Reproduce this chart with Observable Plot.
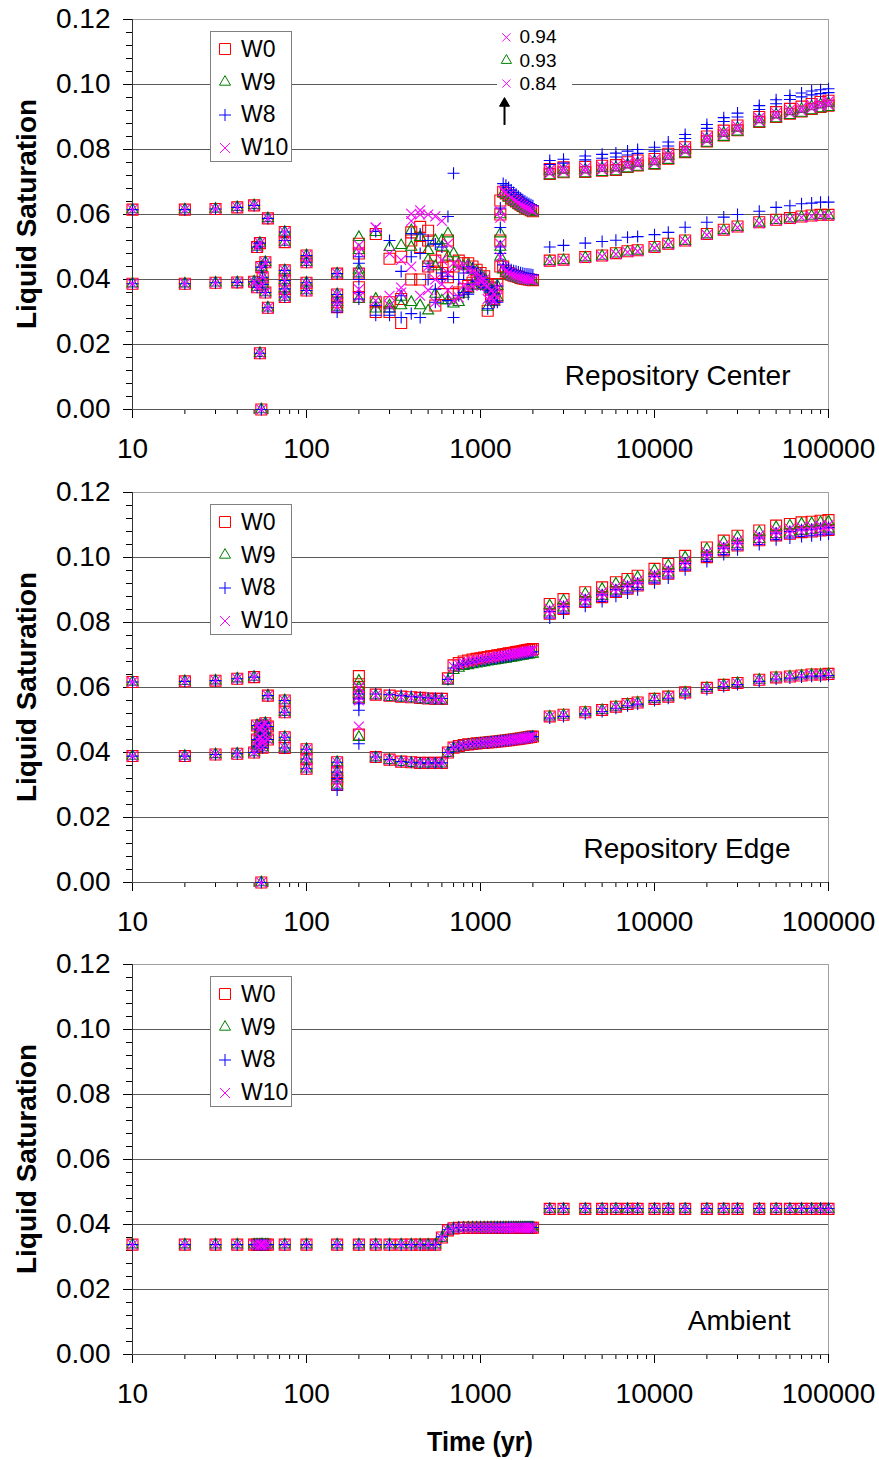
<!DOCTYPE html>
<html><head><meta charset="utf-8">
<script src="https://cdn.jsdelivr.net/npm/d3@7"></script>
<script src="https://cdn.jsdelivr.net/npm/@observablehq/plot@0.6"></script>
<style>
body{margin:0;background:#fff;}
#root{position:relative;width:879px;height:1460px;font-family:"Liberation Sans",Arial,sans-serif;color:#000;}
.panel{position:absolute;left:0;}
.ylab{position:absolute;transform:translate(-50%,-50%) rotate(-90deg);white-space:nowrap;font-weight:bold;font-size:28px;}
.legend{position:absolute;box-sizing:border-box;border:1px solid #808080;background:#fff;}
.legend .row{position:absolute;left:0;height:30px;display:flex;align-items:center;}
.legend .row span{font-size:23px;margin-left:4px;}
.xtitle{position:absolute;transform:translate(-50%,-50%) scaleX(0.9);font-weight:bold;font-size:28px;white-space:nowrap;}
</style></head>
<body><div id="root"></div>
<script>
// ---------------- DATA ----------------
const times = [10,20,30,40,50,52,54,55,56,58,60,75,100,150,200,
  250,300,350,400,450,500,550,600,650,700,
  750,800,850,900,950,1000,1050,1100,1150,1200,1250,1300,
  1350,1400,1450,1500,1550,1600,1650,1700,1750,1800,1850,1900,1950,2000,
  2500,3000,4000,5000,6000,7000,8000,10000,12000,15000,20000,25000,30000,40000,50000,60000,70000,80000,90000,100000];
const lateTimes = [2500,3000,4000,5000,6000,7000,8000,10000,12000,15000,20000,25000,30000,40000,50000,60000,70000,80000,90000,100000];

const seriesNames = ["W0","W9","W8","W10"];
const xMajorTicks = [10,100,1000,10000,100000];
const xMinorTicks = [20,30,40,50,60,70,80,90,200,300,400,500,600,700,800,900,2000,3000,4000,5000,6000,7000,8000,9000,20000,30000,40000,50000,60000,70000,80000,90000];
const yMajorTicks = [0,0.02,0.04,0.06,0.08,0.10,0.12];
const yMinorTicks = [0.004,0.008,0.012,0.016,0.024,0.028,0.032,0.036,0.044,0.048,0.052,0.056,0.064,0.068,0.072,0.076,0.084,0.088,0.092,0.096,0.104,0.108,0.112,0.116];
const panelLabels = ["Repository Center","Repository Edge","Ambient"];
const annoLabels = ["0.94","0.93","0.84"];

// Repository Center
const centerUpperW0 = [.0615,.0615,.0617,.0622,.0628,.0500,.0512,.0438,.0407,.0453,.0588,.0546,.0474,.0418,.0510,
  .0540,.0464,.0470,.0545,.0562,.0550,.0458,.0470,.0520,.0440,
  .0458,.0450,.0450,.0440,.0430,.0420,.0410,.0385,.0375,.0365,.0386,.0643,
  .0670,.0665,.0658,.0650,.0645,.0640,.0635,.0630,.0626,.0622,.0619,.0616,.0613,.0610,
  .0740,.0745,.0746,.0750,.0752,.0761,.0766,.0771,.0787,.0807,.0840,.0858,.0874,.0900,.0915,.0925,.0932,.0940,.0946,.0950];
const centerUpperW9 = [.0615,.0615,.0617,.0622,.0628,.0500,.0512,.0438,.0407,.0453,.0588,.0546,.0474,.0418,.0530,
  .0545,.0499,.0505,.0551,.0530,.0490,.0520,.0520,.0541,.0480,
  .0448,.0440,.0445,.0430,.0425,.0415,.0405,.0380,.0370,.0360,.0380,.0541,
  .0665,.0660,.0652,.0645,.0640,.0635,.0630,.0625,.0621,.0618,.0615,.0612,.0609,.0606,
  .0732,.0737,.0738,.0742,.0744,.0753,.0758,.0763,.0779,.0799,.0832,.0850,.0866,.0892,.0907,.0917,.0924,.0932,.0938,.0942];
const centerUpperW8 = [.0615,.0615,.0617,.0622,.0628,.0500,.0512,.0438,.0407,.0453,.0588,.0546,.0474,.0418,.0470,
  .0548,.0520,.0425,.0541,.0540,.0520,.0509,.0500,.0594,.0727,
  .0400,.0420,.0440,.0435,.0420,.0410,.0400,.0375,.0365,.0355,.0380,.0560,
  .0695,.0690,.0683,.0675,.0668,.0662,.0656,.0650,.0645,.0641,.0637,.0633,.0630,.0627,
  .0766,.0770,.0780,.0785,.0789,.0795,.0800,.0807,.0823,.0846,.0877,.0898,.0912,.0935,.0953,.0966,.0974,.0980,.0984,.0987];
const centerUpperW10 = [.0615,.0615,.0617,.0622,.0628,.0500,.0512,.0438,.0407,.0453,.0588,.0546,.0474,.0418,.0505,
  .0560,.0480,.0460,.0602,.0613,.0600,.0594,.0580,.0510,.0450,
  .0440,.0445,.0430,.0425,.0420,.0410,.0400,.0380,.0365,.0355,.0375,.0590,
  .0672,.0668,.0660,.0652,.0646,.0641,.0636,.0631,.0627,.0623,.0620,.0617,.0614,.0611,
  .0737,.0742,.0743,.0747,.0749,.0758,.0763,.0768,.0784,.0804,.0837,.0855,.0871,.0897,.0912,.0922,.0929,.0937,.0943,.0947];
const centerLowerW0 = [.0387,.0387,.0390,.0391,.0393,.0376,.0173,.0000,.0385,.0360,.0313,.0397,.0390,.0354,.0376,
  .0330,.0300,.0266,.0400,.0400,.0440,.0320,.0355,.0407,.0355,
  .0360,.0370,.0380,.0390,.0400,.0400,.0390,.0304,.0350,.0340,.0350,.0440,
  .0440,.0425,.0420,.0415,.0412,.0410,.0408,.0405,.0403,.0402,.0401,.0400,.0399,.0398,
  .0458,.0461,.0469,.0474,.0481,.0487,.0490,.0500,.0510,.0520,.0540,.0553,.0563,.0576,.0584,.0589,.0594,.0597,.0599,.0599];
const centerLowerW9 = [.0387,.0387,.0390,.0391,.0393,.0376,.0173,.0000,.0385,.0360,.0313,.0397,.0390,.0354,.0418,
  .0340,.0310,.0346,.0330,.0320,.0304,.0355,.0335,.0335,.0325,
  .0330,.0355,.0370,.0380,.0390,.0395,.0380,.0315,.0340,.0330,.0345,.0470,
  .0430,.0420,.0415,.0410,.0407,.0405,.0403,.0400,.0399,.0398,.0397,.0396,.0395,.0394,
  .0456,.0459,.0467,.0472,.0479,.0485,.0488,.0498,.0508,.0518,.0538,.0551,.0561,.0574,.0582,.0587,.0592,.0595,.0597,.0597];
const centerLowerW8 = [.0387,.0387,.0390,.0391,.0393,.0376,.0173,.0000,.0385,.0360,.0313,.0397,.0390,.0354,.0360,
  .0320,.0290,.0283,.0295,.0283,.0400,.0370,.0400,.0335,.0283,
  .0350,.0360,.0355,.0385,.0395,.0385,.0375,.0310,.0335,.0330,.0330,.0500,
  .0445,.0437,.0433,.0430,.0427,.0425,.0423,.0421,.0419,.0418,.0417,.0416,.0415,.0414,
  .0500,.0505,.0512,.0517,.0521,.0530,.0532,.0538,.0545,.0561,.0576,.0592,.0600,.0610,.0622,.0627,.0633,.0635,.0638,.0638];
const centerLowerW10 = [.0387,.0387,.0390,.0391,.0393,.0376,.0173,.0000,.0385,.0360,.0313,.0397,.0390,.0354,.0370,
  .0335,.0320,.0375,.0440,.0350,.0367,.0330,.0386,.0367,.0335,
  .0345,.0380,.0375,.0380,.0390,.0395,.0385,.0340,.0340,.0335,.0345,.0469,
  .0440,.0425,.0420,.0415,.0412,.0410,.0408,.0405,.0403,.0402,.0401,.0400,.0399,.0398,
  .0455,.0458,.0466,.0471,.0478,.0484,.0487,.0497,.0507,.0517,.0537,.0550,.0560,.0573,.0581,.0586,.0591,.0594,.0596,.0596];
const centerExtraTimes = [75,75,75,75,100,100,150,150,200,200,200,250,300,350,400,450,500,550,600,650,1300,1300];
const centerExtraW0 = [.0515,.0428,.0371,.0346,.0453,.0366,.0330,.0315,.0480,.0418,.0346,.0300,.0330,.0340,.0520,.0500,.0520,.0420,.0420,.0440,.0600,.0520];
const centerExtraW9 = [.0515,.0428,.0371,.0346,.0453,.0366,.0330,.0315,.0490,.0430,.0340,.0310,.0320,.0320,.0500,.0530,.0460,.0440,.0500,.0470,.0600,.0500];
const centerExtraW8 = [.0520,.0428,.0371,.0346,.0453,.0366,.0330,.0300,.0450,.0400,.0340,.0290,.0300,.0350,.0470,.0480,.0440,.0330,.0420,.0410,.0620,.0480];
const centerExtraW10 = [.0515,.0428,.0371,.0346,.0453,.0366,.0330,.0315,.0485,.0420,.0346,.0560,.0350,.0360,.0580,.0600,.0440,.0400,.0460,.0420,.0610,.0510];
// second node of the upper late cluster (Center)
const centerLateW0 = [.0725,.0730,.0731,.0735,.0737,.0746,.0751,.0756,.0772,.0792,.0825,.0843,.0859,.0885,.0900,.0910,.0917,.0925,.0931,.0935];
const centerLateW9 = [.0720,.0725,.0726,.0730,.0732,.0741,.0746,.0751,.0767,.0787,.0820,.0838,.0854,.0880,.0895,.0905,.0912,.0920,.0926,.0930];
const centerLateW8 = [.0754,.0758,.0768,.0773,.0777,.0783,.0788,.0795,.0811,.0834,.0865,.0886,.0900,.0923,.0941,.0954,.0962,.0968,.0972,.0975];
const centerLateW10 = [.0727,.0732,.0733,.0737,.0739,.0748,.0753,.0758,.0774,.0794,.0827,.0845,.0861,.0887,.0902,.0912,.0919,.0927,.0933,.0937];

// Repository Edge
const edgeUpperW0 = [.0617,.0619,.0621,.0627,.0632,.0483,.0470,.0483,.0440,.0490,.0575,.0560,.0410,.0370,.0635,
  .0578,.0575,.0572,.0570,.0568,.0566,.0565,.0565,.0628,.0668,
  .0675,.0680,.0683,.0686,.0688,.0690,.0692,.0694,.0696,.0697,.0699,.0700,
  .0702,.0703,.0705,.0706,.0707,.0709,.0710,.0711,.0712,.0714,.0715,.0716,.0717,.0718,
  .0857,.0872,.0893,.0908,.0924,.0934,.0944,.0965,.0980,.1005,.1031,.1052,.1067,.1083,.1098,.1103,.1108,.1110,.1113,.1115];
const edgeUpperW9 = [.0617,.0619,.0621,.0627,.0632,.0483,.0470,.0483,.0440,.0490,.0575,.0560,.0410,.0370,.0620,
  .0575,.0570,.0568,.0566,.0563,.0561,.0560,.0560,.0620,.0653,
  .0660,.0665,.0668,.0671,.0673,.0675,.0677,.0679,.0681,.0682,.0684,.0685,
  .0687,.0688,.0690,.0691,.0692,.0694,.0695,.0696,.0697,.0699,.0700,.0701,.0702,.0703,
  .0852,.0867,.0888,.0903,.0919,.0929,.0939,.0960,.0975,.1000,.1026,.1047,.1062,.1078,.1093,.1098,.1103,.1105,.1108,.1110];
const edgeUpperW8 = [.0617,.0619,.0621,.0627,.0632,.0483,.0470,.0483,.0440,.0490,.0575,.0560,.0410,.0370,.0550,
  .0580,.0578,.0575,.0572,.0570,.0568,.0567,.0566,.0625,.0660,
  .0667,.0672,.0675,.0678,.0680,.0682,.0684,.0686,.0688,.0689,.0691,.0692,
  .0694,.0695,.0697,.0698,.0699,.0701,.0702,.0703,.0704,.0706,.0707,.0708,.0709,.0710,
  .0834,.0849,.0870,.0885,.0901,.0911,.0921,.0942,.0957,.0982,.1008,.1029,.1044,.1060,.1075,.1080,.1085,.1087,.1090,.1092];
const edgeUpperW10 = [.0617,.0619,.0621,.0627,.0632,.0483,.0470,.0483,.0440,.0490,.0575,.0560,.0410,.0370,.0600,
  .0576,.0573,.0570,.0568,.0566,.0564,.0563,.0563,.0624,.0664,
  .0671,.0676,.0679,.0682,.0684,.0686,.0688,.0690,.0692,.0693,.0695,.0696,
  .0698,.0699,.0701,.0702,.0703,.0705,.0706,.0707,.0708,.0710,.0711,.0712,.0713,.0714,
  .0842,.0857,.0878,.0893,.0909,.0919,.0929,.0950,.0965,.0990,.1016,.1037,.1052,.1068,.1083,.1088,.1093,.1095,.1098,.1100];
const edgeLowerW0 = [.0389,.0389,.0394,.0396,.0400,.0420,.0445,.0000,.0415,.0460,.0480,.0414,.0350,.0300,.0455,
  .0386,.0378,.0372,.0370,.0368,.0368,.0368,.0368,.0400,.0415,
  .0420,.0423,.0425,.0426,.0428,.0429,.0430,.0431,.0432,.0433,.0434,.0435,
  .0436,.0437,.0438,.0439,.0440,.0441,.0442,.0443,.0444,.0445,.0446,.0447,.0448,.0449,
  .0511,.0516,.0524,.0531,.0541,.0549,.0554,.0565,.0572,.0585,.0599,.0608,.0614,.0624,.0631,.0634,.0637,.0640,.0640,.0642];
const edgeLowerW9 = [.0389,.0389,.0394,.0396,.0400,.0420,.0445,.0000,.0415,.0460,.0480,.0414,.0350,.0300,.0447,
  .0384,.0376,.0370,.0367,.0365,.0365,.0365,.0365,.0398,.0413,
  .0418,.0421,.0423,.0424,.0426,.0427,.0428,.0429,.0430,.0431,.0432,.0433,
  .0434,.0435,.0436,.0437,.0438,.0439,.0440,.0441,.0442,.0443,.0444,.0445,.0446,.0447,
  .0510,.0515,.0523,.0530,.0540,.0548,.0553,.0564,.0571,.0584,.0598,.0607,.0613,.0623,.0630,.0633,.0636,.0639,.0639,.0641];
const edgeLowerW8 = [.0389,.0389,.0394,.0396,.0400,.0420,.0445,.0000,.0415,.0460,.0480,.0414,.0350,.0285,.0427,
  .0386,.0378,.0372,.0370,.0368,.0368,.0368,.0368,.0400,.0415,
  .0420,.0423,.0425,.0426,.0428,.0429,.0430,.0431,.0432,.0433,.0434,.0435,
  .0436,.0437,.0438,.0439,.0440,.0441,.0442,.0443,.0444,.0445,.0446,.0447,.0448,.0449,
  .0506,.0511,.0519,.0526,.0536,.0544,.0549,.0560,.0567,.0580,.0594,.0603,.0609,.0619,.0626,.0629,.0632,.0635,.0635,.0637];
const edgeLowerW10 = [.0389,.0389,.0394,.0396,.0400,.0420,.0445,.0000,.0415,.0460,.0480,.0414,.0350,.0300,.0480,
  .0386,.0378,.0372,.0370,.0368,.0368,.0368,.0368,.0400,.0415,
  .0420,.0423,.0425,.0426,.0428,.0429,.0430,.0431,.0432,.0433,.0434,.0435,
  .0436,.0437,.0438,.0439,.0440,.0441,.0442,.0443,.0444,.0445,.0446,.0447,.0448,.0449,
  .0510,.0515,.0523,.0530,.0540,.0548,.0553,.0564,.0571,.0584,.0598,.0607,.0613,.0623,.0630,.0633,.0636,.0639,.0639,.0641];
const edgeExtraTimes = [52,56,60,75,75,100,150,150,200,200,200];
const edgeExtraW0 = [.0440,.0430,.0440,.0524,.0447,.0380,.0340,.0320,.0610,.0585,.0570];
const edgeExtraW9 = [.0440,.0430,.0440,.0524,.0447,.0380,.0340,.0320,.0600,.0580,.0565];
const edgeExtraW8 = [.0440,.0430,.0440,.0524,.0447,.0380,.0340,.0320,.0580,.0565,.0530];
const edgeExtraW10 = [.0440,.0430,.0440,.0524,.0447,.0380,.0340,.0320,.0600,.0575,.0560];
// second node of the upper late cluster (Edge)
const edgeLateW0 = [.0827,.0842,.0863,.0878,.0894,.0904,.0914,.0935,.0950,.0975,.1001,.1022,.1037,.1053,.1068,.1073,.1078,.1080,.1083,.1085];
const edgeLateW9 = [.0830,.0845,.0866,.0881,.0897,.0907,.0917,.0938,.0953,.0978,.1004,.1025,.1040,.1056,.1071,.1076,.1081,.1083,.1086,.1088];
const edgeLateW8 = [.0814,.0829,.0850,.0865,.0881,.0891,.0901,.0922,.0937,.0962,.0988,.1009,.1024,.1040,.1055,.1060,.1065,.1067,.1070,.1072];
const edgeLateW10 = [.0827,.0842,.0863,.0878,.0894,.0904,.0914,.0935,.0950,.0975,.1001,.1022,.1037,.1053,.1068,.1073,.1078,.1080,.1083,.1085];

// Ambient
const ambientW0 = [.0338,.0338,.0338,.0338,.0338,.0338,.0338,.0338,.0338,.0338,.0338,.0338,.0338,.0338,.0338,
  .0338,.0338,.0338,.0338,.0338,.0338,.0338,.0360,.0382,.0388,
  .0390,.0390,.0390,.0390,.0390,.0390,.0390,.0390,.0390,.0390,.0390,.0390,
  .0390,.0390,.0390,.0390,.0390,.0390,.0390,.0390,.0390,.0390,.0390,.0390,.0390,.0390,
  .0448,.0448,.0448,.0448,.0448,.0448,.0448,.0448,.0448,.0448,.0448,.0448,.0448,.0448,.0448,.0448,.0448,.0448,.0448,.0448];
const ambientW9 = [.0338,.0338,.0338,.0338,.0338,.0338,.0338,.0338,.0338,.0338,.0338,.0338,.0338,.0338,.0338,
  .0338,.0338,.0338,.0338,.0338,.0338,.0338,.0358,.0380,.0387,
  .0389,.0389,.0390,.0390,.0390,.0390,.0390,.0390,.0390,.0390,.0390,.0390,
  .0390,.0390,.0390,.0390,.0390,.0390,.0390,.0390,.0390,.0390,.0390,.0390,.0390,.0390,
  .0447,.0447,.0447,.0447,.0447,.0447,.0447,.0447,.0447,.0447,.0447,.0447,.0447,.0447,.0447,.0447,.0447,.0447,.0447,.0447];
const ambientW8 = [.0338,.0338,.0338,.0338,.0338,.0338,.0338,.0338,.0338,.0338,.0338,.0338,.0338,.0338,.0338,
  .0338,.0338,.0338,.0338,.0338,.0338,.0338,.0362,.0384,.0389,
  .0391,.0391,.0391,.0391,.0391,.0391,.0391,.0391,.0391,.0391,.0391,.0391,
  .0391,.0391,.0391,.0391,.0391,.0391,.0391,.0391,.0391,.0391,.0391,.0391,.0391,.0391,
  .0449,.0449,.0449,.0449,.0449,.0449,.0449,.0449,.0449,.0449,.0449,.0449,.0449,.0449,.0449,.0449,.0449,.0449,.0449,.0449];
const ambientW10 = [.0338,.0338,.0338,.0338,.0338,.0338,.0338,.0338,.0338,.0338,.0338,.0338,.0338,.0338,.0338,
  .0338,.0338,.0338,.0338,.0338,.0338,.0338,.0360,.0382,.0388,
  .0390,.0390,.0390,.0390,.0390,.0390,.0390,.0390,.0390,.0390,.0390,.0390,
  .0390,.0390,.0390,.0390,.0390,.0390,.0390,.0390,.0390,.0390,.0390,.0390,.0390,.0390,
  .0448,.0448,.0448,.0448,.0448,.0448,.0448,.0448,.0448,.0448,.0448,.0448,.0448,.0448,.0448,.0448,.0448,.0448,.0448,.0448];

// ---------------- STYLE ----------------
const FONT = "'Liberation Sans', Arial, sans-serif";
const seriesColors = ["#ff0000","#008000","#0000ff","#ff00ff"];
const seriesSymbols = ["square","triangle","plus","times"];
const seriesR = [6.2, 4.1, 3.95, 4.6];
const W = 879, PH = 473;

function checkLen(name, arr, n) { if (arr.length !== n) throw new Error(name + " length " + arr.length + " != " + n); }

// groups: list of [timeArray, [W0vals, W9vals, W8vals, W10vals]]
function buildRows(groups) {
  const rows = [];
  seriesNames.forEach((s, k) => {
    groups.forEach(([ts, vals], g) => {
      checkLen("group " + g + " " + s, vals[k], ts.length);
      ts.forEach((t, i) => rows.push({t, v: vals[k][i], s}));
    });
  });
  return rows;
}

function makePanel(rows, label, before, after) {
  return Plot.plot({
    width: W, height: PH,
    marginLeft: 132, marginRight: 51, marginTop: 19, marginBottom: 64,
    x: {type: "log", domain: [10, 100000]},
    y: {domain: [0, 0.12]},
    style: {fontFamily: FONT, fontSize: "28px", color: "#000", background: "#fff", overflow: "visible"},
    marks: [
      Plot.ruleY(yMajorTicks.filter(d => d > 0 && d < 0.12), {stroke: "#5a5a5a", strokeWidth: 1}),
      Plot.ruleY([0.12], {stroke: "#a0a0a0", strokeWidth: 1}),
      Plot.ruleX([100000], {stroke: "#a0a0a0", strokeWidth: 1}),
      ...before,
      Plot.axisY({ticks: yMajorTicks, tickFormat: d => d.toFixed(2), tickSize: 9, tickPadding: 13, label: null, fontSize: 28}),
      Plot.axisY({ticks: yMinorTicks, tickFormat: () => "", tickSize: 6, label: null}),
      Plot.axisX({ticks: xMajorTicks, tickFormat: d => String(d), tickSize: 9, tickPadding: 20, label: null, fontSize: 28}),
      Plot.axisX({ticks: xMinorTicks, tickFormat: () => "", tickSize: 5, label: null}),
      Plot.ruleX([10], {stroke: "#333"}),
      Plot.ruleY([0], {stroke: "#555"}),
      ...seriesNames.map((s, k) => Plot.dot(rows.filter(d => d.s === s), {
        x: "t", y: "v", symbol: seriesSymbols[k], r: seriesR[k],
        stroke: seriesColors[k], fill: "none", strokeWidth: 1.1
      })),
      Plot.text([label], {text: d => d, frameAnchor: "bottom-right", dx: -38, dy: -33,
        lineAnchor: "middle", textAnchor: "end", fontSize: 28}),
      ...after
    ]
  });
}

const root = document.getElementById("root");

function addPanel(svg, top) {
  const div = document.createElement("div");
  div.className = "panel";
  div.style.top = top + "px";
  div.appendChild(svg);
  root.appendChild(div);
  const yl = document.createElement("div");
  yl.className = "ylab";
  yl.style.left = "27px";
  yl.style.top = (top + 214) + "px";
  yl.textContent = "Liquid Saturation";
  root.appendChild(yl);
  const lg = document.createElement("div");
  lg.className = "legend";
  lg.style.left = "210px";
  lg.style.top = (top + 31) + "px";
  lg.style.width = "82px";
  lg.style.height = "131px";
  const rowCenters = [17, 50, 82.5, 115.5];
  const d3sym = {square: d3.symbolSquare, triangle: d3.symbolTriangle, plus: d3.symbolPlus, times: d3.symbolTimes};
  seriesNames.forEach((s, k) => {
    const row = document.createElement("div");
    row.className = "row";
    row.style.top = (rowCenters[k] - 15) + "px";
    const sz = Math.PI * seriesR[k] * seriesR[k];
    const path = d3.symbol(d3sym[seriesSymbols[k]], sz)();
    row.innerHTML = `<svg width="24" height="30" style="margin-left:2px"><path transform="translate(12,15)" d="${path}" fill="none" stroke="${seriesColors[k]}" stroke-width="1"/></svg><span>${s}</span>`;
    lg.appendChild(row);
  });
  root.appendChild(lg);
}

// Panel 1 annotation marks
const annoSymbols = ["times", "triangle", "times"];
const annoColors = ["#ff00ff", "#008000", "#ff00ff"];
const annoYs = [0.1145, 0.1074, 0.1003];
const annoBefore = [
  Plot.rect([0], {x1: 1253, x2: 3380, y1: 0.0975, y2: 0.1182, fill: "#fff"})
];
const annoAfter = [
  ...annoLabels.map((lab, i) => Plot.dot([lab], {x: 1409, y: annoYs[i], symbol: annoSymbols[i], r: 3.8, stroke: annoColors[i], fill: "none", strokeWidth: 1})),
  ...annoLabels.map((lab, i) => Plot.text([lab], {text: d => d, x: 1675, y: annoYs[i], textAnchor: "start", lineAnchor: "middle", fontSize: 19})),
  Plot.ruleX([1374], {y1: 0.0874, y2: 0.0935, stroke: "#000", strokeWidth: 2}),
  Plot.dot([0], {x: 1374, y: 0.0942, symbol: "triangle", r: 3.7, fill: "#000", stroke: "#000", strokeWidth: 1})
];

const centerRows = buildRows([
  [times, [centerUpperW0, centerUpperW9, centerUpperW8, centerUpperW10]],
  [times, [centerLowerW0, centerLowerW9, centerLowerW8, centerLowerW10]],
  [centerExtraTimes, [centerExtraW0, centerExtraW9, centerExtraW8, centerExtraW10]],
  [lateTimes, [centerLateW0, centerLateW9, centerLateW8, centerLateW10]]
]);
const edgeRows = buildRows([
  [times, [edgeUpperW0, edgeUpperW9, edgeUpperW8, edgeUpperW10]],
  [times, [edgeLowerW0, edgeLowerW9, edgeLowerW8, edgeLowerW10]],
  [edgeExtraTimes, [edgeExtraW0, edgeExtraW9, edgeExtraW8, edgeExtraW10]],
  [lateTimes, [edgeLateW0, edgeLateW9, edgeLateW8, edgeLateW10]]
]);
const ambientRows = buildRows([
  [times, [ambientW0, ambientW9, ambientW8, ambientW10]]
]);

addPanel(makePanel(centerRows, panelLabels[0], annoBefore, annoAfter), 0);
addPanel(makePanel(edgeRows, panelLabels[1], [], []), 473);
addPanel(makePanel(ambientRows, panelLabels[2], [], []), 945);

const xt = document.createElement("div");
xt.className = "xtitle";
xt.style.left = "480px";
xt.style.top = "1442px";
xt.textContent = "Time (yr)";
root.appendChild(xt);
</script>
</body></html>
